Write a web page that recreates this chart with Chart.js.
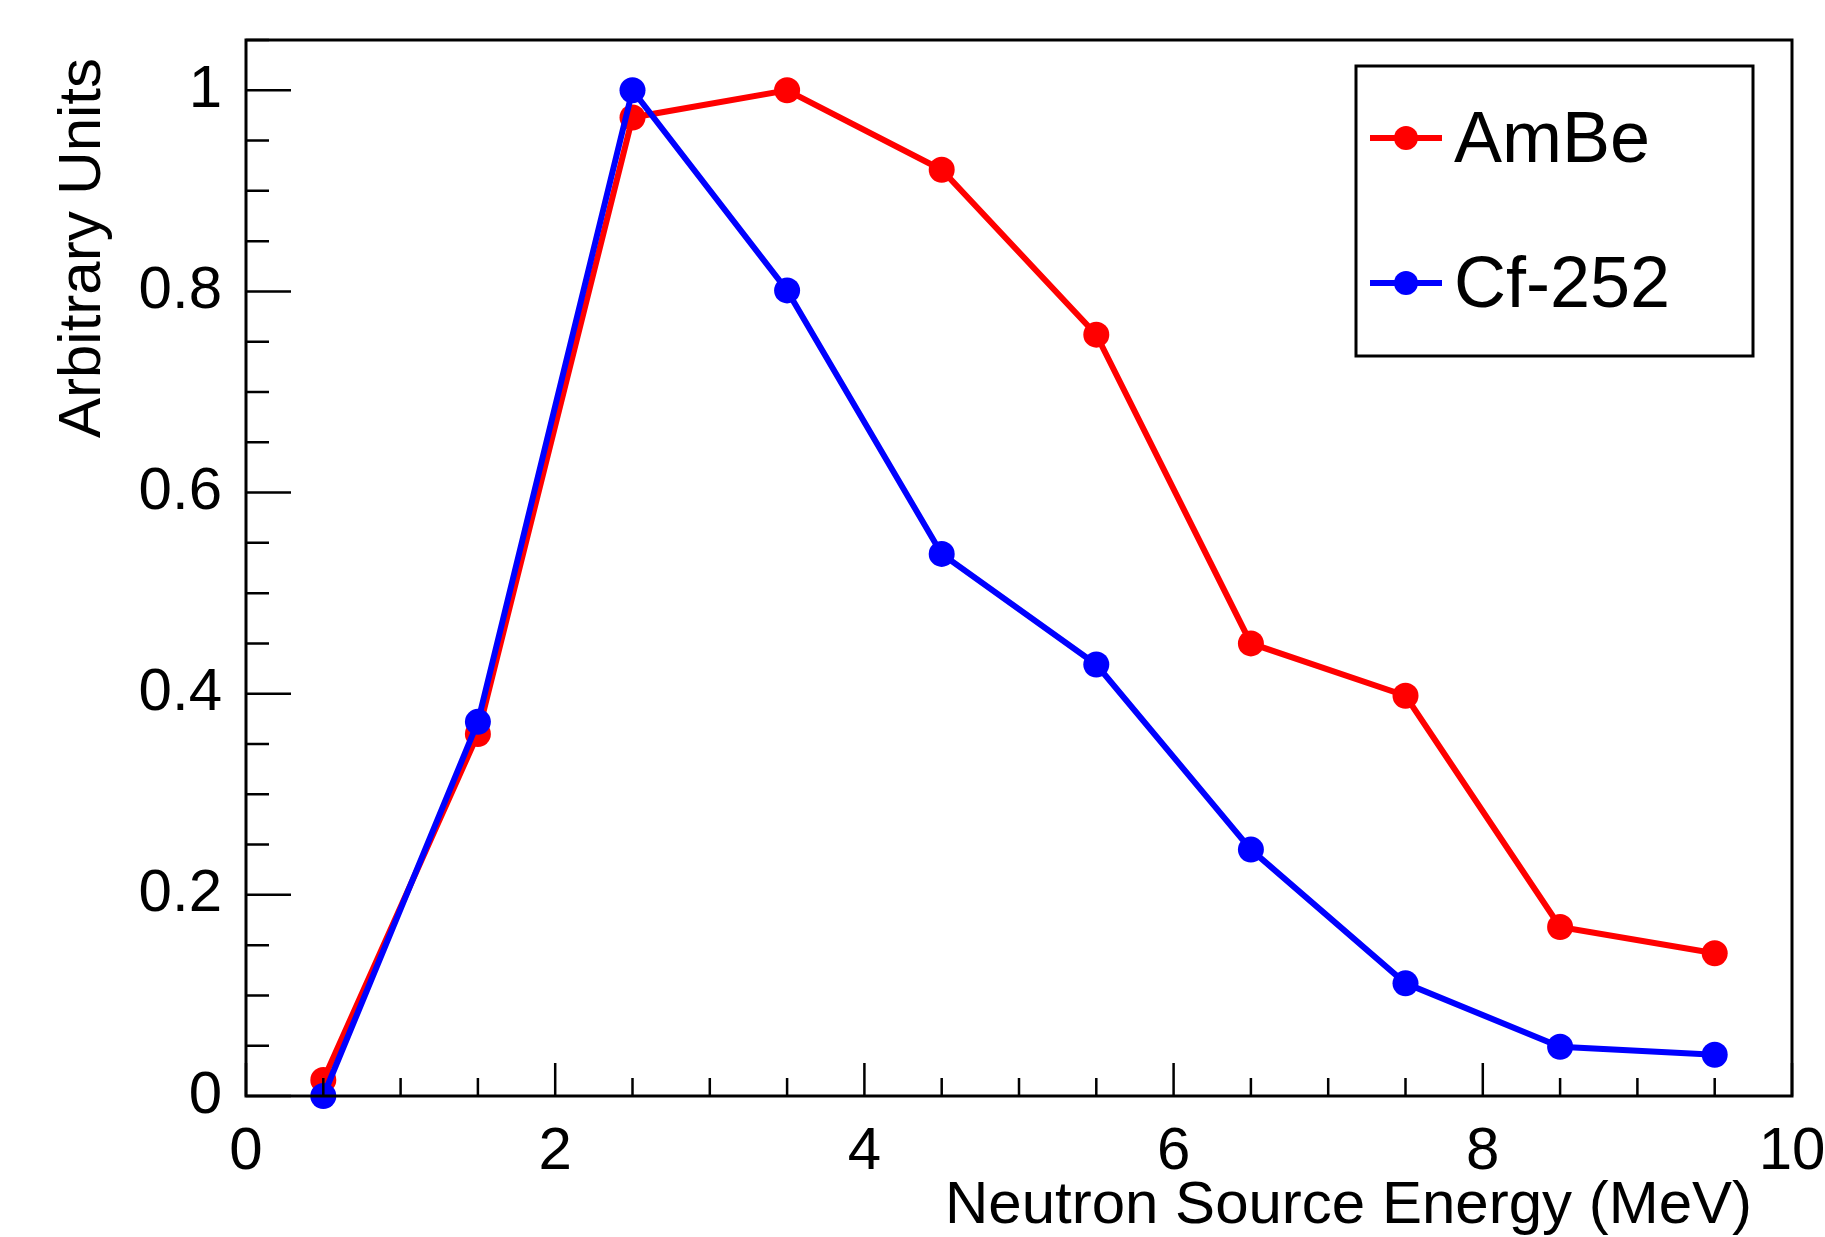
<!DOCTYPE html>
<html lang="en">
<head>
    <meta charset="UTF-8">
    <title>Neutron Source Energy</title>
    <script src="https://cdn.jsdelivr.net/npm/chart.js"></script>
    <style>
        html, body { margin: 0; padding: 0; background: white; }
        .chart-wrapper { width: 1825px; height: 1237px; }
    </style>
</head>
<body>
    <div class="chart-wrapper">
        <canvas id="spectrumChart" width="1825" height="1237"></canvas>
    </div>

    <script>
        // data
        const energies = [0.5, 1.5, 2.5, 3.5, 4.5, 5.5, 6.5, 7.5, 8.5, 9.5];
        const ambeValues = [0.016, 0.36, 0.973, 1.0, 0.921, 0.757, 0.45, 0.398, 0.168, 0.142];
        const cfValues = [0.0, 0.372, 1.0, 0.801, 0.539, 0.429, 0.245, 0.112, 0.049, 0.041];
        const seriesNames = ['AmBe', 'Cf-252'];
        const seriesColors = ['#ff0000', '#0000ff'];
        const xTitle = 'Neutron Source Energy (MeV)';
        const yTitle = 'Arbitrary Units';

        const FONT = '"Liberation Sans", Arial, sans-serif';

        // ROOT-style frame with ticks pointing inward
        const frameTicks = {
            id: 'frameTicks',
            afterDatasetsDraw(chart) {
                const { ctx, chartArea, scales: { x, y } } = chart;
                ctx.save();
                ctx.strokeStyle = '#000';
                ctx.lineWidth = 2.5;
                ctx.beginPath();
                for (let i = 0; i <= 20; i++) {
                    const px = x.getPixelForValue(i * 0.5);
                    const len = i % 4 === 0 ? 33 : 18;
                    ctx.moveTo(px, chartArea.bottom);
                    ctx.lineTo(px, chartArea.bottom - len);
                }
                for (let i = 0; i <= 21; i++) {
                    const py = y.getPixelForValue(i * 0.05);
                    const len = i % 4 === 0 ? 45 : 23;
                    ctx.moveTo(chartArea.left, py);
                    ctx.lineTo(chartArea.left + len, py);
                }
                ctx.stroke();
                ctx.lineWidth = 3;
                ctx.strokeRect(chartArea.left, chartArea.top,
                    chartArea.right - chartArea.left, chartArea.bottom - chartArea.top);
                ctx.restore();
            }
        };

        // axis titles and boxed legend
        const annotations = {
            id: 'annotations',
            afterDraw(chart) {
                const { ctx, chartArea } = chart;
                ctx.save();
                ctx.fillStyle = '#000';
                ctx.font = '60px ' + FONT;
                ctx.textAlign = 'right';
                ctx.textBaseline = 'alphabetic';
                ctx.fillText(xTitle, chartArea.right - 40, 1223);

                ctx.translate(100, chartArea.top + 18);
                ctx.rotate(-Math.PI / 2);
                ctx.fillText(yTitle, 0, 0);
                ctx.restore();

                // legend box
                const bx = chartArea.right - 436, by = chartArea.top + 26;
                const bw = 397, bh = 290;
                ctx.save();
                ctx.fillStyle = '#fff';
                ctx.fillRect(bx, by, bw, bh);
                ctx.strokeStyle = '#000';
                ctx.lineWidth = 3;
                ctx.strokeRect(bx, by, bw, bh);
                ctx.font = '72px ' + FONT;
                ctx.textAlign = 'left';
                ctx.textBaseline = 'middle';
                seriesNames.forEach((name, i) => {
                    const cy = by + 72 + i * 145;
                    ctx.strokeStyle = seriesColors[i];
                    ctx.lineWidth = 6;
                    ctx.beginPath();
                    ctx.moveTo(bx + 14, cy);
                    ctx.lineTo(bx + 86, cy);
                    ctx.stroke();
                    ctx.fillStyle = seriesColors[i];
                    ctx.beginPath();
                    ctx.arc(bx + 50, cy, 12, 0, Math.PI * 2);
                    ctx.fill();
                    ctx.fillStyle = '#000';
                    ctx.fillText(name, bx + 98, cy + 4);
                });
                ctx.restore();
            }
        };

        function makeSeries(values, i, order) {
            return {
                label: seriesNames[i],
                data: energies.map((e, k) => ({ x: e, y: values[k] })),
                borderColor: seriesColors[i],
                backgroundColor: seriesColors[i],
                borderWidth: 6,
                pointRadius: 13,
                pointBorderWidth: 0,
                pointHoverRadius: 13,
                tension: 0,
                fill: false,
                clip: false,
                order: order
            };
        }

        // keep the frame exactly where the reference has it
        function noEdgePadding(scale) {
            scale.paddingTop = 0;
            scale.paddingBottom = 0;
            scale.paddingLeft = 0;
            scale.paddingRight = 0;
        }

        const ctx = document.getElementById('spectrumChart').getContext('2d');
        new Chart(ctx, {
            type: 'line',
            data: {
                datasets: [
                    makeSeries(ambeValues, 0, 1),
                    makeSeries(cfValues, 1, 0)
                ]
            },
            options: {
                responsive: false,
                devicePixelRatio: 1,
                animation: false,
                layout: { padding: { top: 40, right: 33, left: 0, bottom: 0 } },
                plugins: {
                    legend: { display: false },
                    tooltip: { enabled: false }
                },
                scales: {
                    x: {
                        type: 'linear',
                        min: 0,
                        max: 10,
                        grid: { display: false },
                        border: { display: false },
                        ticks: {
                            stepSize: 2,
                            maxRotation: 0,
                            padding: 12,
                            color: '#000',
                            font: { family: FONT, size: 60 }
                        },
                        afterFit(scale) { scale.height = 141; noEdgePadding(scale); }
                    },
                    y: {
                        type: 'linear',
                        min: 0,
                        max: 1.05,
                        grid: { display: false },
                        border: { display: false },
                        ticks: {
                            stepSize: 0.2,
                            includeBounds: false,
                            padding: 16,
                            color: '#000',
                            font: { family: FONT, size: 60 },
                            callback: v => String(Math.round(v * 10) / 10)
                        },
                        afterFit(scale) { scale.width = 246; noEdgePadding(scale); }
                    }
                }
            },
            plugins: [frameTicks, annotations]
        });
    </script>
</body>
</html>
